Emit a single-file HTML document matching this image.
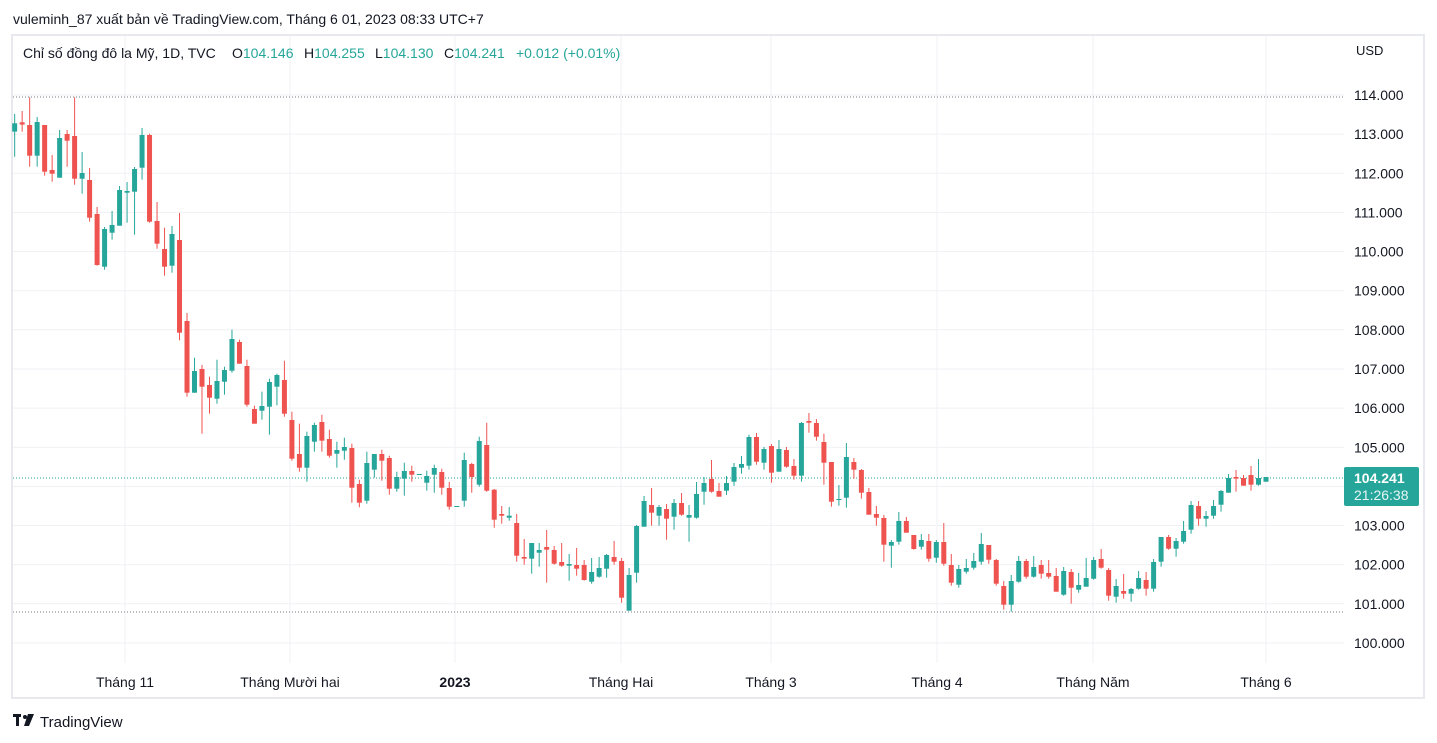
<!DOCTYPE html>
<html><head><meta charset="utf-8"><style>
html,body{margin:0;padding:0;background:#fff;width:1437px;height:743px;overflow:hidden}
svg{display:block}
</style></head><body>
<svg id="s" width="1437" height="743" xmlns="http://www.w3.org/2000/svg" font-family="Liberation Sans, sans-serif">
<rect x="0" y="0" width="1437" height="743" fill="#fff"/>
<text x="13" y="24" font-size="14" fill="#131722">vuleminh_87 xuất bản về TradingView.com, Tháng 6 01, 2023 08:33 UTC+7</text>
<rect x="12" y="35" width="1412" height="663" fill="#fff" stroke="#e8e9ee" stroke-width="2"/>
<g id="grid" stroke="#f0f1f4" stroke-width="1"></g>
<line x1="13" y1="97" x2="1344" y2="97" stroke="#787b86" stroke-dasharray="1,2"/>
<line x1="13" y1="612" x2="1344" y2="612" stroke="#787b86" stroke-dasharray="1,2"/>
<line x1="13" y1="478" x2="1344" y2="478" stroke="#26a69a" stroke-dasharray="1,2"/>
<g id="c"></g>
<g font-size="14">
<text x="23" y="58" fill="#131722">Chỉ số đồng đô la Mỹ, 1D, TVC</text>
<text x="232" y="58" fill="#131722">O<tspan fill="#26a69a">104.146</tspan></text>
<text x="304" y="58" fill="#131722">H<tspan fill="#26a69a">104.255</tspan></text>
<text x="375" y="58" fill="#131722">L<tspan fill="#26a69a">104.130</tspan></text>
<text x="444" y="58" fill="#131722">C<tspan fill="#26a69a">104.241</tspan></text>
<text x="516" y="58" fill="#26a69a">+0.012 (+0.01%)</text>
</g>
<text x="1356" y="55" font-size="13" fill="#131722">USD</text>
<g id="pl" font-size="14" fill="#131722"></g>
<rect x="1344" y="467" width="75" height="39" rx="2" fill="#26a69a"/>
<text x="1354" y="483" font-size="14" font-weight="bold" fill="#fff">104.241</text>
<text x="1354" y="500" font-size="14" fill="#e6f5f3">21:26:38</text>
<g font-size="14" fill="#131722" text-anchor="middle">
<text x="125" y="687">Tháng 11</text>
<text x="290" y="687">Tháng Mười hai</text>
<text x="455" y="687" font-weight="bold">2023</text>
<text x="621" y="687">Tháng Hai</text>
<text x="771" y="687">Tháng 3</text>
<text x="937" y="687">Tháng 4</text>
<text x="1093" y="687">Tháng Năm</text>
<text x="1266" y="687">Tháng 6</text>
</g>
<g transform="translate(13,713)"><rect x="0" y="1" width="8" height="3" fill="#131722"/><rect x="3" y="1" width="3" height="12" fill="#131722"/><circle cx="12" cy="4" r="2" fill="#131722"/><path d="M15 1 L21 1 L16 13 L11 13 Z" fill="#131722"/></g>
<text x="40" y="727" font-size="15" fill="#131722">TradingView</text>
</svg>
<script>
var NS="http://www.w3.org/2000/svg";
function el(p,t,a){var e=document.createElementNS(NS,t);for(var k in a)e.setAttribute(k,a[k]);p.appendChild(e);return e;}
var g=document.getElementById('grid');
for(var p=100;p<=114;p++){var y=95+(114-p)*39.14;el(g,'line',{x1:13,x2:1344,y1:y.toFixed(1),y2:y.toFixed(1)});
el(document.getElementById('pl'),'text',{x:1354,y:(y+5).toFixed(1)}).textContent=p+".000";}
[125,290,455,621,771,937,1093,1266].forEach(function(x){el(g,'line',{x1:x,x2:x,y1:36,y2:663});});
var A=[
"g100,125,72,200","r97,104,63,125","r105,197,22,230","g96,197,81,230","r105,245,105,257","r240,251,195,275","g144,263,120,263","r132,152,120,230","r138,266,22,284","g249,266,186,311","r270,383,234,395","r372,525,351,527","g417,530,411,539","g405,428,363,449","g300,407,288,407","g303,308,276,398","g237,305,231,434","g135,233,114,269","r135,395,131,398","r393,461,336,476","r477,530,413,557","g432,527,408,548","r450,728,369,751","r693,908,669,920","g843,908,803,908","r837,890,825,1031","r885,923,860,971","g873,926,809,941","g840,875,830,914","g747,842,719,848","r756,821,749,821","r828,944,809,950","r957,1001,947,1001","g948,962,905,989","g876,950,866,1034","g855,890,851,946","r870,971,812,980","r990,1106,965,1112","r1092,1133,1001,1145","g1038,1133,1025,1175","g1005,1055,998,1085","r996,1052,974,1085","r1047,1097,1019,1103","g1080,1091,1055,1133","g1071,1082,1043,1109","r1074,1193,1061,1238","r1182,1238,1169,1252","g1119,1232,1085,1241","g1092,1139,1092,1163","r1092,1112,1079,1172","r1104,1196,1097,1214","g1161,1196,1145,1205","g1143,1166,1118,1217","r1143,1154,1127,1175","g1152,1155,1152,1155","g1158,1178,1142,1202","g1134,1154,1124,1208","r1146,1193,1136,1214","r1194,1250,1176,1259","g1248,1251,1248,1251","g1110,1232,1088,1250","r1122,1161,1118,1208","g1053,1184,1040,1190","r1065,1202,998,1205"];
var B=["r269,359,267,383","r342,347,318,371","g347,353,321,362","r369,467,342,485","r471,476,417,494","g429,476,429,521","g450,458,429,500","r441,449,390,548","r450,491,438,494","r486,497,429,500","g492,497,462,542","r495,506,444,527","r495,540,480,542","g516,545,474,551","g504,530,471,533","g465,506,462,533","r471,485,423,494","r483,593,474,608","g525,632,504,632","g378,518,375,548","g303,380,288,380","r315,338,264,377","g321,347,315,377","r327,356,312,419","g309,350,297,389","r309,344,279,347","g345,353,315,425","g282,353,246,356","g249,275,231,314","r237,275,180,278","r273,290,249,290","g249,272,228,285","g201,245,189,257","g192,203,168,221","g111,197,104,209","r111,185,99,194","g147,188,141,209","r138,218,132,248","g147,215,120,215","r150,200,141,203","r198,227,177,239","g69,227,66,245","r63,68,39,98","r69,110,57,122","r126,188,101,254","r186,305,186,320","g297,300,255,317","g171,293,129,323","r186,209,174,236","r210,278,207,296","r276,344,264,344","r342,353,318,377","r354,434,345,485",
"g426,437,420,503","g363,425,336,434","r363,398,351,398","r405,447,405,449","g420,440,402,449","r423,476,402,485","g426,473,420,488","r426,491,369,497","r495,548,462,557","g507,554,495,563","g504,515,477,521","g483,503,459,509","g432,485,399,494","r435,479,435,491","r480,551,477,557","r558,614,543,629","g543,614,525,635","g483,545,468,548","r483,530,477,536","g501,530,468,533","r495,521,480,536","r519,530,480,536","r528,575,504,575","g513,584,501,587","r516,563,507,611","g555,569,519,578","g534,560,474,560","g480,536,471,539","r477,503,447,506","r510,587,504,602","g558,590,537,608","r573,581,522,596","g567,581,564,605","g534,566,513,569","r540,566,516,587","g486,566,477,575","g411,485,411,500","r411,446,405,449","g423,446,414,470","g393,425,363,431","g315,389,303,401","r318,356,303,377","g348,356,333,380","g318,347,300,356","g273,314,270,335","g234,278,222,278","r231,236,210,275","r234,257,225,257","r225,254,198,272","g234,254,177,257","g231,245,231,245"];
var c=document.getElementById('c');
function draw(s,i,off){var col=s[0]=='g'?'#26a69a':'#ef5350';var v=s.slice(1).split(',').map(function(n){return off+(+n)/3;});
var x=14.67+i*7.493;
el(c,'line',{x1:x.toFixed(2),x2:x.toFixed(2),y1:v[2].toFixed(1),y2:v[3].toFixed(1),stroke:col,'stroke-width':1});
var h=Math.max(1,v[1]-v[0]);el(c,'rect',{x:(x-2.5).toFixed(2),y:v[0].toFixed(1),width:5,height:h.toFixed(1),fill:col});}
A.forEach(function(s,i){draw(s,i,90);});
B.forEach(function(s,i){draw(s,64+i,400);});
</script>
</body></html>
